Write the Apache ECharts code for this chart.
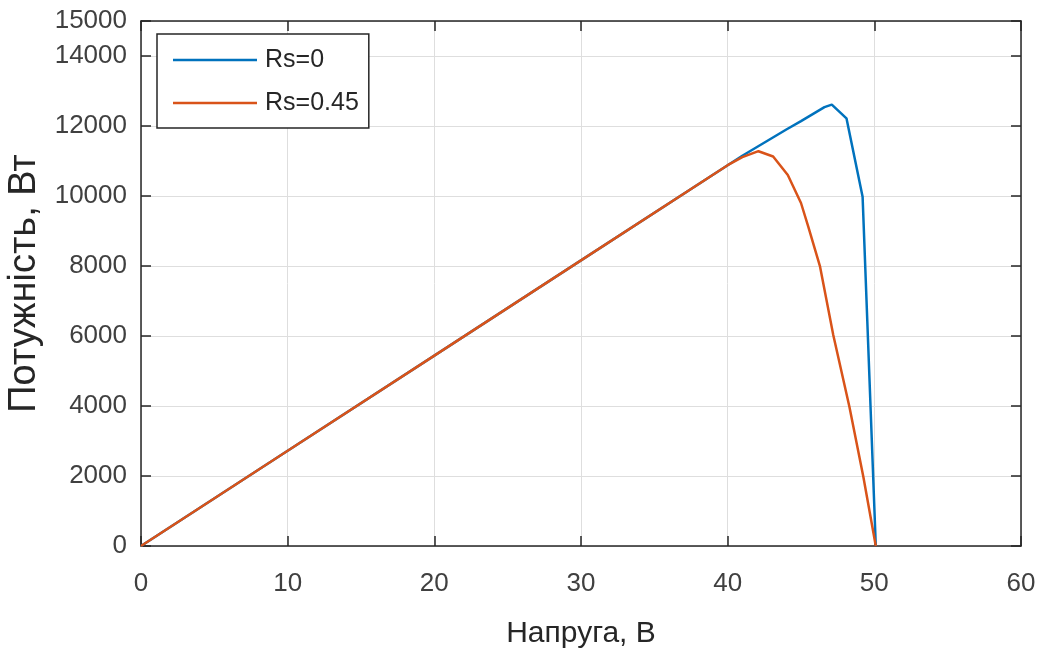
<!DOCTYPE html>
<html>
<head>
<meta charset="utf-8">
<script src="https://cdn.jsdelivr.net/npm/echarts@6/dist/echarts.min.js"></script>
<style>
html,body{margin:0;padding:0;background:#fff;}
#chart{width:1043px;height:660px;}
</style>
</head>
<body>
<div id="chart"></div>
<script>
// Data
var seriesNames = ['Rs=0', 'Rs=0.45'];
var voltageRs0 = [0, 10, 20, 30, 40, 41, 42, 43, 44, 45, 46, 46.6, 47.1, 48.1, 49.2, 50.1];
var powerRs0   = [0, 2720, 5440, 8160, 10880, 11150, 11400, 11650, 11900, 12140, 12390, 12540, 12610, 12220, 9980, 0];
var voltageRs045 = [0, 10, 20, 30, 40, 41, 42.1, 43.1, 44.1, 45, 45.5, 46.3, 47.2, 48.3, 49.25, 50.1];
var powerRs045   = [0, 2720, 5440, 8160, 10880, 11110, 11280, 11130, 10600, 9800, 9120, 7980, 6030, 3980, 1980, 0];
var xTicks = [0, 10, 20, 30, 40, 50, 60];
var yTicks = [0, 2000, 4000, 6000, 8000, 10000, 12000, 14000, 15000];

function pairs(xs, ys) { return xs.map(function (x, i) { return [x, ys[i]]; }); }

var FONT = "'Liberation Sans', Arial, sans-serif";
var AX = '#262626';

var chart = echarts.init(document.getElementById('chart'), null, {renderer: 'canvas'});
var xBase = {
  type: 'value', min: xTicks[0], max: xTicks[xTicks.length - 1], interval: 10,
  axisLine: {show: true, onZero: false, lineStyle: {color: AX, width: 1.5}},
  axisTick: {show: true, inside: true, length: 10, lineStyle: {color: AX, width: 1.5}}
};
var yBase = {
  type: 'value', min: yTicks[0], max: yTicks[yTicks.length - 1], interval: 2000,
  axisLine: {show: true, onZero: false, lineStyle: {color: AX, width: 1.5}},
  axisTick: {show: true, inside: true, length: 10, lineStyle: {color: AX, width: 1.5}}
};
function plain(v) { return String(v); }
var option = {
  backgroundColor: '#ffffff',
  animation: false,
  grid: {left: 141, right: 22, top: 21, bottom: 114, containLabel: false, outerBoundsMode: 'none'},
  legend: {
    orient: 'vertical', left: 157, top: 34,
    data: seriesNames,
    icon: 'rect', itemWidth: 84, itemHeight: 2.5, itemGap: 13,
    padding: [11, 10, 10, 16],
    borderColor: AX, borderWidth: 1.5, backgroundColor: '#fff',
    textStyle: {fontFamily: FONT, fontSize: 25, color: '#262626', lineHeight: 30, padding: [0, 0, 0, 3]}
  },
  xAxis: [
    Object.assign({}, xBase, {
      position: 'bottom',
      name: 'Напруга, В', nameLocation: 'middle', nameGap: 73,
      nameTextStyle: {fontFamily: FONT, fontSize: 30, color: '#262626'},
      axisLabel: {fontFamily: FONT, fontSize: 26, color: '#404040', margin: 25, formatter: plain},
      splitLine: {show: true, lineStyle: {color: '#dedede', width: 1}}
    }),
    Object.assign({}, xBase, {position: 'top', axisLabel: {show: false}, splitLine: {show: false}})
  ],
  yAxis: [
    Object.assign({}, yBase, {
      position: 'left',
      name: 'Потужність, Вт', nameLocation: 'middle', nameGap: 67, nameRotate: 90,
      nameTextStyle: {fontFamily: FONT, fontSize: 38, color: '#262626'},
      axisLabel: {fontFamily: FONT, fontSize: 26, color: '#404040', margin: 14, formatter: plain},
      splitLine: {show: true, lineStyle: {color: '#dedede', width: 1}}
    }),
    Object.assign({}, yBase, {position: 'right', axisLabel: {show: false}, splitLine: {show: false}})
  ],
  series: [
    {
      name: seriesNames[0], type: 'line', data: pairs(voltageRs0, powerRs0),
      showSymbol: false, symbol: 'none', smooth: false,
      lineStyle: {color: '#0072BD', width: 2.5}, itemStyle: {color: '#0072BD'}, z: 3
    },
    {
      name: seriesNames[1], type: 'line', data: pairs(voltageRs045, powerRs045),
      showSymbol: false, symbol: 'none', smooth: false,
      lineStyle: {color: '#D95319', width: 2.5}, itemStyle: {color: '#D95319'}, z: 4
    }
  ]
};
chart.setOption(option);
</script>
</body>
</html>
